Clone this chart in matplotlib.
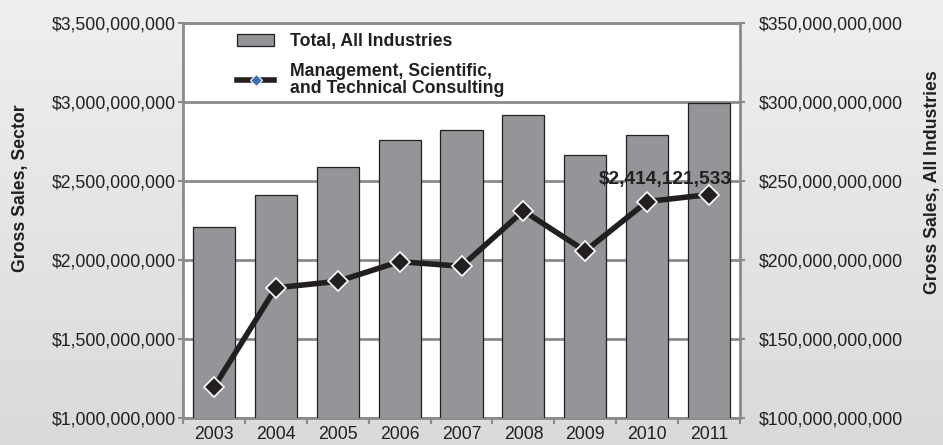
import matplotlib
matplotlib.use("Agg")
import matplotlib.pyplot as plt
from matplotlib.lines import Line2D
from matplotlib.patches import Patch
from matplotlib.ticker import FuncFormatter, MultipleLocator
import numpy as np

plt.rcParams['font.family'] = ['Liberation Sans', 'DejaVu Sans']

years = ['2003', '2004', '2005', '2006', '2007', '2008', '2009', '2010', '2011']
total_all = [220.9e9, 241.0e9, 258.9e9, 276.0e9, 282.0e9, 291.5e9, 266.5e9, 279.0e9, 299.5e9]
consulting = [1.195e9, 1.824e9, 1.865e9, 1.990e9, 1.960e9, 2.311e9, 2.057e9, 2.370e9, 2414121533]

DARK = '#231f20'
BAR = '#939598'
AXIS = '#8a8a8a'
FS = 12.7

def dollars(v, pos=None):
    return '${:,.0f}'.format(v)

fig = plt.figure(figsize=(9.43, 4.45), dpi=100)

# soft grey gradient behind everything
bg = fig.add_axes([0, 0, 1, 1], zorder=-10)
grad = np.linspace(0, 1, 256).reshape(-1, 1)
bg.imshow(grad, aspect='auto', cmap=matplotlib.colors.LinearSegmentedColormap.from_list(
    'bg', ['#efeff0', '#dadadb']), extent=[0, 1, 0, 1])
bg.set_axis_off()

pos = [183 / 943, 1 - 418 / 445, (740 - 183) / 943, (418 - 23) / 445]
ax = fig.add_axes(pos)          # bars, right-hand scale
ax.set_facecolor('white')
x = np.arange(len(years))

ax.bar(x, total_all, width=0.68, color=BAR, edgecolor=DARK, linewidth=0.9, zorder=3)
ax.set_ylim(100e9, 350e9)
ax.set_xlim(-0.5, len(years) - 0.5)
ax.yaxis.set_major_locator(MultipleLocator(50e9))
ax.yaxis.set_major_formatter(FuncFormatter(dollars))
ax.grid(axis='y', color=AXIS, linewidth=2, zorder=0)
ax.set_axisbelow(True)

ax.set_xticks(x)
ax.set_xticklabels(years)
ax.set_xticks(np.arange(-0.5, len(years)), minor=True)
ax.tick_params(axis='x', which='major', length=0, pad=6, labelsize=FS, labelcolor=DARK)
ax.tick_params(axis='x', which='minor', length=4, width=1.5, color=AXIS)

for s in ax.spines.values():
    s.set_color(AXIS)
    s.set_linewidth(2)

# consulting line, left-hand scale
ax2 = ax.twinx()
ax.yaxis.tick_right()
ax.tick_params(axis='y', length=3.6, width=1.5, color=AXIS, labelsize=FS,
               labelcolor=DARK, pad=10)
ax2.yaxis.tick_left()
ax2.plot(x, consulting, color=DARK, linewidth=4, marker='D', markersize=10,
         markerfacecolor=DARK, markeredgecolor='white', markeredgewidth=1.2,
         zorder=5, solid_joinstyle='miter')
ax2.set_ylim(1.0e9, 3.5e9)
ax2.yaxis.set_major_locator(MultipleLocator(0.5e9))
ax2.yaxis.set_major_formatter(FuncFormatter(dollars))
ax2.tick_params(axis='y', length=3.6, width=1.5, color=AXIS, labelsize=FS,
                labelcolor=DARK, pad=1.5)
for s in ax2.spines.values():
    s.set_visible(False)

ax2.annotate(dollars(consulting[-1]), xy=(x[-1], consulting[-1]),
             xytext=(23, 15), textcoords='offset pixels', ha='right', va='center',
             fontsize=13.8, fontweight='bold', color=DARK, zorder=6)

handles = [
    Patch(facecolor=BAR, edgecolor=DARK, linewidth=0.9),
    Line2D([0], [0], color=DARK, linewidth=4, marker='D', markersize=6,
           markerfacecolor='#3b6fb5', markeredgecolor='white', markeredgewidth=0.8),
]
labels = ['Total, All Industries', 'Management, Scientific,\nand Technical Consulting']
leg = ax2.legend(handles, labels, loc='upper left',
                 bbox_to_anchor=((237 - 183) / 557, 1 - 10 / 395),
                 frameon=False, handlelength=2.1, handletextpad=0.9,
                 labelspacing=0.75, borderaxespad=0, borderpad=0,
                 prop={'weight': 'bold', 'size': FS})
for t in leg.get_texts():
    t.set_color(DARK)
    t.set_linespacing(0.95)

fig.text(21 / 943, 1 - 188 / 445, 'Gross Sales, Sector', rotation=90,
         ha='center', va='center', fontsize=FS, fontweight='bold', color=DARK)
fig.text(932 / 943, 1 - 182 / 445, 'Gross Sales, All Industries', rotation=90,
         ha='center', va='center', fontsize=FS, fontweight='bold', color=DARK)

fig.savefig('out.png', dpi=100)
